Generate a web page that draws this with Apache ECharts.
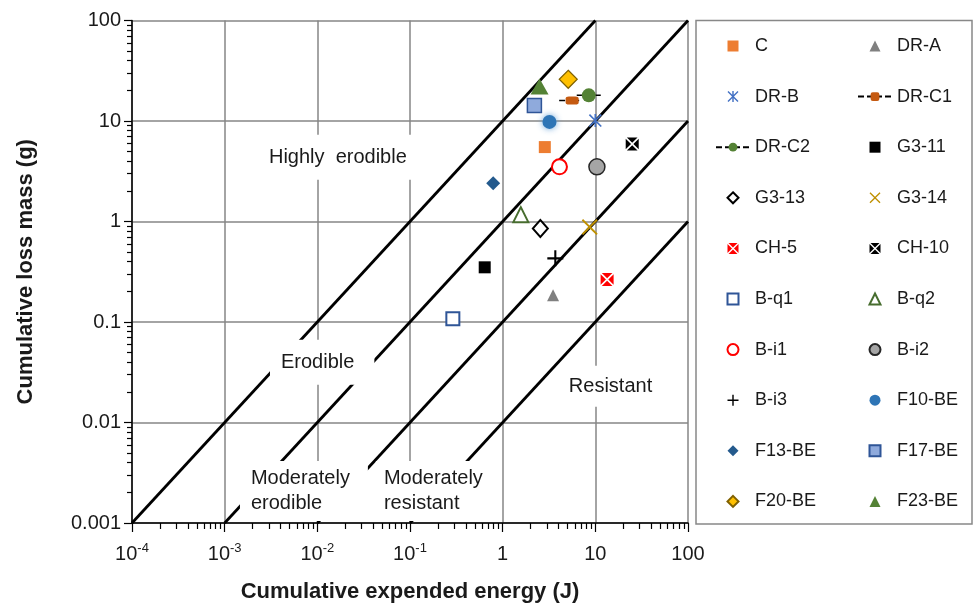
<!DOCTYPE html>
<html><head><meta charset="utf-8">
<script src="https://cdn.jsdelivr.net/npm/echarts@6/dist/echarts.min.js"></script>
<style>html,body{margin:0;padding:0;background:#fff}#c{width:974px;height:608px}</style>
</head><body><div id="c"></div>
<script>
// ---- axis ticks ----
const xTicks = [1e-4, 1e-3, 1e-2, 1e-1, 1, 10, 100];
const xTickLabels = ['10{sup|-4}', '10{sup|-3}', '10{sup|-2}', '10{sup|-1}', '1', '10', '100'];
const yTicks = [1e-3, 1e-2, 1e-1, 1, 10, 100];
const yTickLabels = ['0.001', '0.01', '0.1', '1', '10', '100'];

// ---- data: [cumulative expended energy (J), cumulative loss mass (g)] ----
const C      = [[2.85, 5.5]];
const DR_A   = [[3.5, 0.185]];
const DR_B   = [[10.0, 10.1]];
const DR_C1  = [[4.07, 16.0], [5.62, 16.0], [6.69, 16.0]];
const DR_C2  = [[6.3, 18.0], [8.5, 18.0], [11.7, 18.0]];
const G3_11  = [[0.64, 0.35]];
const G3_13  = [[2.55, 0.85]];
const G3_14  = [[8.7, 0.88]];
const CH_5   = [[13.4, 0.265]];
const CH_10  = [[25.0, 5.9]];
const B_q1   = [[0.29, 0.108]];
const B_q2   = [[1.57, 1.17]];
const B_i1   = [[4.1, 3.5]];
const B_i2   = [[10.4, 3.5]];
const B_i3   = [[3.7, 0.43]];
const F10_BE = [[3.2, 9.8]];
const F13_BE = [[0.79, 2.4]];
const F17_BE = [[2.2, 14.3]];
const F20_BE = [[5.1, 26.0]];
const F23_BE = [[2.5, 22.0]];

// ---- erodibility class boundaries ----
const boundaryA = [[1e-4, 1e-3], [10, 100]];
const boundaryB = [[1e-3, 1e-3], [100, 100]];
const boundaryC = [[1e-2, 1e-3], [100, 10]];
const boundaryD = [[1e-1, 1e-3], [100, 1]];

// ---- zone labels ----
const zoneNames = ['Highly  erodible', 'Erodible', 'Moderately\nerodible', 'Moderately\nresistant', 'Resistant'];
const zoneAt = [[0.002526, 4.36], [0.003083, 0.03971], [0.001462, 0.002078], [0.04286, 0.002078], [4.244, 0.02293]];

const legendCol1 = ['C', 'DR-B', 'DR-C2', 'G3-13', 'CH-5', 'B-q1', 'B-i1', 'B-i3', 'F13-BE', 'F20-BE'];
const legendCol2 = ['DR-A', 'DR-C1', 'G3-11', 'G3-14', 'CH-10', 'B-q2', 'B-i2', 'F10-BE', 'F17-BE', 'F23-BE'];

const FONT = 'Liberation Sans';
const TXT = '#1a1a1a';

const P_RECT = 'path://M0,0H10V10H0Z';
const P_TRI = 'path://M5,0L10,10H0Z';
const P_DIAM = 'path://M5,0L10,5L5,10L0,5Z';
const P_CIRC = 'path://M5,0A5,5,0,1,1,5,10A5,5,0,1,1,5,0Z';
const P_AST = 'path://M0,0.9L0.9,0L5,4.1L9.1,0L10,0.9L5.9,5L10,9.1L9.1,10L5,5.9L0.9,10L0,9.1L4.1,5Z M4.35,0H5.65V10H4.35Z';
const P_X = 'path://M0,0.85L0.85,0L5,4.15L9.15,0L10,0.85L5.85,5L10,9.15L9.15,10L5,5.85L0.85,10L0,9.15L4.15,5Z';
const P_PLUS = 'path://M4.35,0H5.65V4.35H10V5.65H5.65V10H4.35V5.65H0V4.35H4.35Z';
const P_XBOX = 'path://M0.9,0L9.1,0L5,4.1Z M10,0.9L10,9.1L5.9,5Z M9.1,10L0.9,10L5,5.9Z M0,9.1L0,0.9L4.1,5Z';

function pts(name, data, symbol, size, item) {
  return {
    name, type: 'scatter', data, symbol, symbolSize: size, z: 5,
    itemStyle: Object.assign({ opacity: 1 }, item),
    emphasis: { disabled: true }, silent: true
  };
}
function dashed(name, data, symbol, size, color) {
  return {
    name, type: 'line', z: 5, symbol, symbolSize: size,
    data: data.map((p, i) => i === 1 ? { value: p } : { value: p, symbol: 'none' }),
    lineStyle: { color: '#000', width: 1.5, type: [6, 3] },
    itemStyle: { color: color },
    emphasis: { disabled: true }, silent: true
  };
}
function boundary(data) {
  return {
    type: 'line', data, symbol: 'none', z: 2, silent: true,
    lineStyle: { color: '#000', width: 2.8 }, emphasis: { disabled: true }
  };
}

const zonePads = [[10, 7, 10, 7], [10, 20, 10, 11], [6, 18, 4, 11], [6, 14, 4, 8], [8, 8, 8, 8]];

const series = [
  boundary(boundaryA), boundary(boundaryB), boundary(boundaryC), boundary(boundaryD),
  {
    type: 'scatter', z: 3, silent: true, symbolSize: 0,
    itemStyle: { opacity: 1 },
    data: zoneAt.map((p, i) => ({
      value: p,
      label: {
        show: true, position: 'inside', formatter: zoneNames[i], align: 'left', verticalAlign: 'middle',
        fontFamily: FONT, fontSize: 20, lineHeight: 25, color: TXT, opacity: 1,
        backgroundColor: '#fff', padding: zonePads[i]
      }
    }))
  },
  pts('C', C, P_RECT, 12, { color: '#ED7D31' }),
  pts('DR-A', DR_A, P_TRI, 12, { color: '#808080' }),
  pts('DR-B', DR_B, P_AST, 13, { color: '#4472C4' }),
  dashed('DR-C1', DR_C1, 'roundRect', [13, 8], '#C55A11'),
  dashed('DR-C2', DR_C2, 'circle', 14, '#548235'),
  pts('G3-11', G3_11, P_RECT, 12, { color: '#000' }),
  pts('G3-13', G3_13, P_DIAM, [15, 17], { color: '#fff', borderColor: '#000', borderWidth: 2 }),
  pts('G3-14', G3_14, P_X, 16, { color: '#BF9000' }),
  pts('CH-5', CH_5, P_XBOX, 13, { color: '#FF0000' }),
  pts('CH-10', CH_10, P_XBOX, 13, { color: '#000' }),
  pts('B-q1', B_q1, P_RECT, 13, { color: '#fff', borderColor: '#2F5597', borderWidth: 2 }),
  pts('B-q2', B_q2, P_TRI, 15, { color: '#fff', borderColor: '#476D2F', borderWidth: 2 }),
  pts('B-i1', B_i1, P_CIRC, 15, { color: '#fff', borderColor: '#FF0000', borderWidth: 2 }),
  pts('B-i2', B_i2, P_CIRC, 16, { color: '#A5A5A5', borderColor: '#262626', borderWidth: 1.5 }),
  pts('B-i3', B_i3, P_PLUS, 16, { color: '#000' }),
  pts('F10-BE', F10_BE, P_CIRC, 14, { color: '#2E75B6', shadowBlur: 6, shadowColor: 'rgba(91,155,213,0.9)' }),
  pts('F13-BE', F13_BE, P_DIAM, 14, { color: '#245A8D' }),
  pts('F17-BE', F17_BE, P_RECT, 14, { color: '#8FAADC', borderColor: '#2F5597', borderWidth: 1.5 }),
  pts('F20-BE', F20_BE, P_DIAM, 18, { color: '#FFC000', borderColor: '#7F6000', borderWidth: 1.2 }),
  pts('F23-BE', F23_BE, P_TRI, [18, 16], { color: '#548235' })
];

function minorOf(ticks) {
  const out = [];
  for (let i = 0; i < ticks.length - 1; i++) for (let k = 2; k <= 9; k++) out.push(ticks[i] * k);
  return out;
}
function idxOf(ticks, v) {
  const lv = Math.log10(v);
  for (let i = 0; i < ticks.length; i++) if (Math.abs(Math.log10(ticks[i]) - lv) < 1e-6) return i;
  return -1;
}

const axisLineStyle = { color: '#000', width: 1.5 };
const gridLineStyle = { color: '#868686', width: 1.5 };

const option = {
  animation: false,
  backgroundColor: '#fff',
  grid: { left: 132, top: 20.5, width: 556, height: 503.5, containLabel: false },
  xAxis: [
    {
      type: 'log', logBase: 10, min: 1e-4, max: 100, splitNumber: 6, position: 'bottom',
      axisLine: { show: true, onZero: false, lineStyle: axisLineStyle },
      axisTick: { show: true, length: 9, customValues: xTicks, lineStyle: { color: '#000', width: 1.2 } },
      axisLabel: {
        customValues: xTicks, margin: 19, fontFamily: FONT, fontSize: 20, color: TXT, lineHeight: 24,
        formatter: v => { const i = idxOf(xTicks, v); return i < 0 ? '' : xTickLabels[i]; },
        rich: { sup: { fontFamily: FONT, fontSize: 13, lineHeight: 13, verticalAlign: 'top', color: TXT } }
      },
      splitLine: { show: true, lineStyle: gridLineStyle },
      name: 'Cumulative expended energy (J)', nameLocation: 'middle', nameGap: 58,
      nameTextStyle: { fontFamily: FONT, fontSize: 22, fontWeight: 'bold', color: TXT }
    },
    {
      type: 'log', logBase: 10, min: 1e-4, max: 100, splitNumber: 6, position: 'bottom',
      axisLine: { show: false }, axisLabel: { show: false }, splitLine: { show: false },
      axisTick: { show: true, length: 6, customValues: minorOf(xTicks), lineStyle: { color: '#000', width: 1.2 } }
    }
  ],
  yAxis: [
    {
      type: 'log', logBase: 10, min: 1e-3, max: 100, splitNumber: 5, position: 'left',
      axisLine: { show: true, onZero: false, lineStyle: axisLineStyle },
      axisTick: { show: true, length: 8, customValues: yTicks, lineStyle: { color: '#000', width: 1.2 } },
      axisLabel: {
        customValues: yTicks, margin: 11, fontFamily: FONT, fontSize: 20, color: TXT,
        formatter: v => { const i = idxOf(yTicks, v); return i < 0 ? '' : yTickLabels[i]; }
      },
      splitLine: { show: true, lineStyle: gridLineStyle },
      name: 'Cumulative loss mass (g)', nameLocation: 'middle', nameGap: 95, nameRotate: 90,
      nameTextStyle: { fontFamily: FONT, fontSize: 22, fontWeight: 'bold', color: TXT }
    },
    {
      type: 'log', logBase: 10, min: 1e-3, max: 100, splitNumber: 5, position: 'left',
      axisLine: { show: false }, axisLabel: { show: false }, splitLine: { show: false },
      axisTick: { show: true, length: 5, customValues: minorOf(yTicks), lineStyle: { color: '#000', width: 1.2 } }
    }
  ],
  legend: [legendCol1, legendCol2].map((d, i) => ({
    data: d, orient: 'vertical', left: i === 0 ? 715 : 857, top: 37, padding: 0,
    itemWidth: 34, itemHeight: 11, itemGap: 32.6, selectedMode: false,
    textStyle: { fontFamily: FONT, fontSize: 18, lineHeight: 18, color: TXT }
  })),
  graphic: [{
    type: 'rect', shape: { x: 696, y: 20.5, width: 276, height: 503.5 },
    style: { fill: 'none', stroke: '#888', lineWidth: 1.5 }, silent: true
  }],
  series
};

const chart = echarts.init(document.getElementById('c'), null, { renderer: 'canvas' });
chart.setOption(option);
</script>
</body></html>
